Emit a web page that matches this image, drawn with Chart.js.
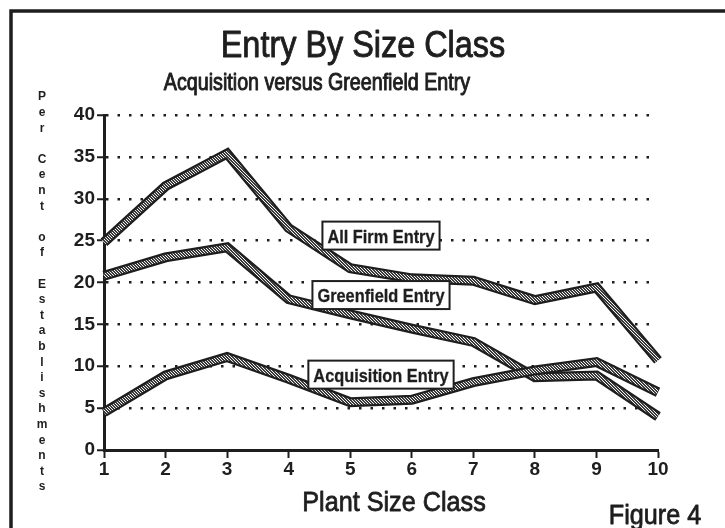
<!DOCTYPE html>
<html>
<head>
<meta charset="utf-8">
<script src="https://cdn.jsdelivr.net/npm/chart.js@4/dist/chart.umd.min.js"></script>
<style>
  body { margin: 0; background: #fff; }
  #chart { display: block; }
</style>
</head>
<body>
<canvas id="chart" width="725" height="528"></canvas>
<script>
const sizeClasses = ["1", "2", "3", "4", "5", "6", "7", "8", "9", "10"];
const allFirmEntry = [24.8, 31.5, 35.4, 26.5, 21.7, 20.5, 20.2, 17.9, 19.4, 10.7];
const greenfieldEntry = [20.8, 23.0, 24.2, 18.0, 16.2, 14.5, 12.9, 8.7, 8.9, 4.0];
const acquisitionEntry = [4.5, 8.9, 11.1, 8.5, 5.7, 6.0, 8.1, 9.5, 10.5, 6.9];
const seriesNames = ["All Firm Entry", "Greenfield Entry", "Acquisition Entry"];
const yAxisWords = ["Per", "Cent", "of", "Establishments"];

const FONT = "'Liberation Sans', Arial, sans-serif";
const INK = "#1e1e1e";

// stippled fill used inside each thick line
function makeStipple() {
  const c = document.createElement("canvas");
  c.width = 3;
  c.height = 3;
  const g = c.getContext("2d");
  g.fillStyle = "#3a3a3a";
  g.fillRect(0, 0, 3, 3);
  g.fillStyle = "#f2f2f2";
  g.fillRect(0, 0, 1, 1);
  g.fillRect(1, 1, 1, 1);
  g.fillRect(2, 2, 1, 1);
  return document.getElementById("chart").getContext("2d").createPattern(c, "repeat");
}
const stipple = makeStipple();

// squeezed text to imitate the narrow Helvetica of the original; heavy adds a thin outline
function narrowText(ctx, text, x, y, font, squeeze, align, heavy) {
  ctx.save();
  ctx.font = font;
  ctx.textBaseline = "alphabetic";
  const w = ctx.measureText(text).width * squeeze;
  let left = x;
  if (align === "center") left = x - w / 2;
  if (align === "right") left = x - w;
  ctx.translate(left, y);
  ctx.scale(squeeze, 1);
  ctx.textAlign = "left";
  ctx.fillText(text, 0, 0);
  if (heavy) {
    ctx.strokeStyle = ctx.fillStyle;
    ctx.lineWidth = heavy;
    ctx.lineJoin = "round";
    ctx.strokeText(text, 0, 0);
  }
  ctx.restore();
  return w;
}

const decorations = {
  id: "decorations",
  beforeDraw(chart) {
    const ctx = chart.ctx;
    ctx.save();
    ctx.fillStyle = "#fff";
    ctx.fillRect(0, 0, chart.width, chart.height);

    // frame (left and top edges visible)
    ctx.strokeStyle = INK;
    ctx.lineWidth = 3.5;
    ctx.beginPath();
    ctx.moveTo(11, chart.height);
    ctx.lineTo(11, 11);
    ctx.lineTo(chart.width, 11);
    ctx.stroke();

    ctx.fillStyle = INK;
    narrowText(ctx, "Entry By Size Class", 363, 57, "36px " + FONT, 0.9, "center", 0.9);
    narrowText(ctx, "Acquisition versus Greenfield Entry", 317, 90, "24px " + FONT, 0.82, "center", 1.0);
    narrowText(ctx, "Plant Size Class", 394, 511, "28px " + FONT, 0.9, "center", 0.8);
    narrowText(ctx, "Figure 4", 655, 524, "28px " + FONT, 0.9, "center", 0.8);

    // stacked vertical y axis label
    ctx.font = "bold 12px " + FONT;
    ctx.textAlign = "center";
    ctx.textBaseline = "middle";
    let y = 97;
    yAxisWords.forEach((word, i) => {
      if (i > 0) y += 15.6;
      for (const ch of word) {
        ctx.fillText(ch, 42, y);
        y += 15.6;
      }
    });
    ctx.restore();
  },
  afterDatasetsDraw(chart) {
    const ctx = chart.ctx;
    const xs = chart.scales.x;
    const ys = chart.scales.y;
    // label anchors in data units (category index, percent)
    const anchors = [[4.5, 25.6], [4.5, 18.5], [4.5, 9.0]];
    const font = "bold 19px " + FONT;
    seriesNames.forEach((name, i) => {
      const cx = xs.getPixelForValue(anchors[i][0]);
      const cy = ys.getPixelForValue(anchors[i][1]);
      ctx.save();
      ctx.font = font;
      const w = ctx.measureText(name).width * 0.86 + 10;
      const h = 28;
      ctx.fillStyle = "#fff";
      ctx.fillRect(cx - w / 2, cy - h / 2, w, h);
      ctx.strokeStyle = INK;
      ctx.lineWidth = 2;
      ctx.strokeRect(cx - w / 2, cy - h / 2, w, h);
      ctx.fillStyle = INK;
      narrowText(ctx, name, cx, cy + 7, font, 0.86, "center", 0.3);
      ctx.restore();
    });
  },
};

function seriesPair(values, rank) {
  const base = {
    data: values,
    pointRadius: 0,
    tension: 0,
    clip: false,
    borderJoinStyle: "miter",
    borderCapStyle: "butt",
  };
  return [
    Object.assign({}, base, { borderColor: INK, borderWidth: 10, order: rank * 2 + 1 }),
    Object.assign({}, base, { borderColor: stipple, borderWidth: 5.5, order: rank * 2 }),
  ];
}

new Chart(document.getElementById("chart"), {
  type: "line",
  data: {
    labels: sizeClasses,
    datasets: [
      ...seriesPair(allFirmEntry, 2),
      ...seriesPair(greenfieldEntry, 1),
      ...seriesPair(acquisitionEntry, 0),
    ],
  },
  options: {
    responsive: false,
    devicePixelRatio: 1,
    animation: false,
    layout: { padding: { left: 0, right: 67, top: 115, bottom: 48 } },
    plugins: { legend: { display: false }, tooltip: { enabled: false } },
    scales: {
      x: {
        offset: false,
        afterFit(scale) { scale.height = 30; },
        border: { display: true, color: INK, width: 3 },
        grid: { drawOnChartArea: false, drawTicks: true, tickLength: 8, tickWidth: 2, tickColor: INK },
        ticks: { color: INK, font: { family: FONT, size: 19, weight: "bold" }, padding: 0, maxRotation: 0, autoSkip: false },
      },
      y: {
        min: 0,
        max: 40,
        afterFit(scale) { scale.width = 104; },
        border: { display: true, color: INK, width: 3, dash: [2.5, 9] },
        grid: { color: INK, lineWidth: 2.5, drawTicks: true, tickLength: 7, tickWidth: 2, tickColor: INK, tickBorderDash: [] },
        ticks: { stepSize: 5, color: INK, font: { family: FONT, size: 19, weight: "bold" }, padding: 2 },
      },
    },
  },
  plugins: [decorations],
});
</script>
</body>
</html>
